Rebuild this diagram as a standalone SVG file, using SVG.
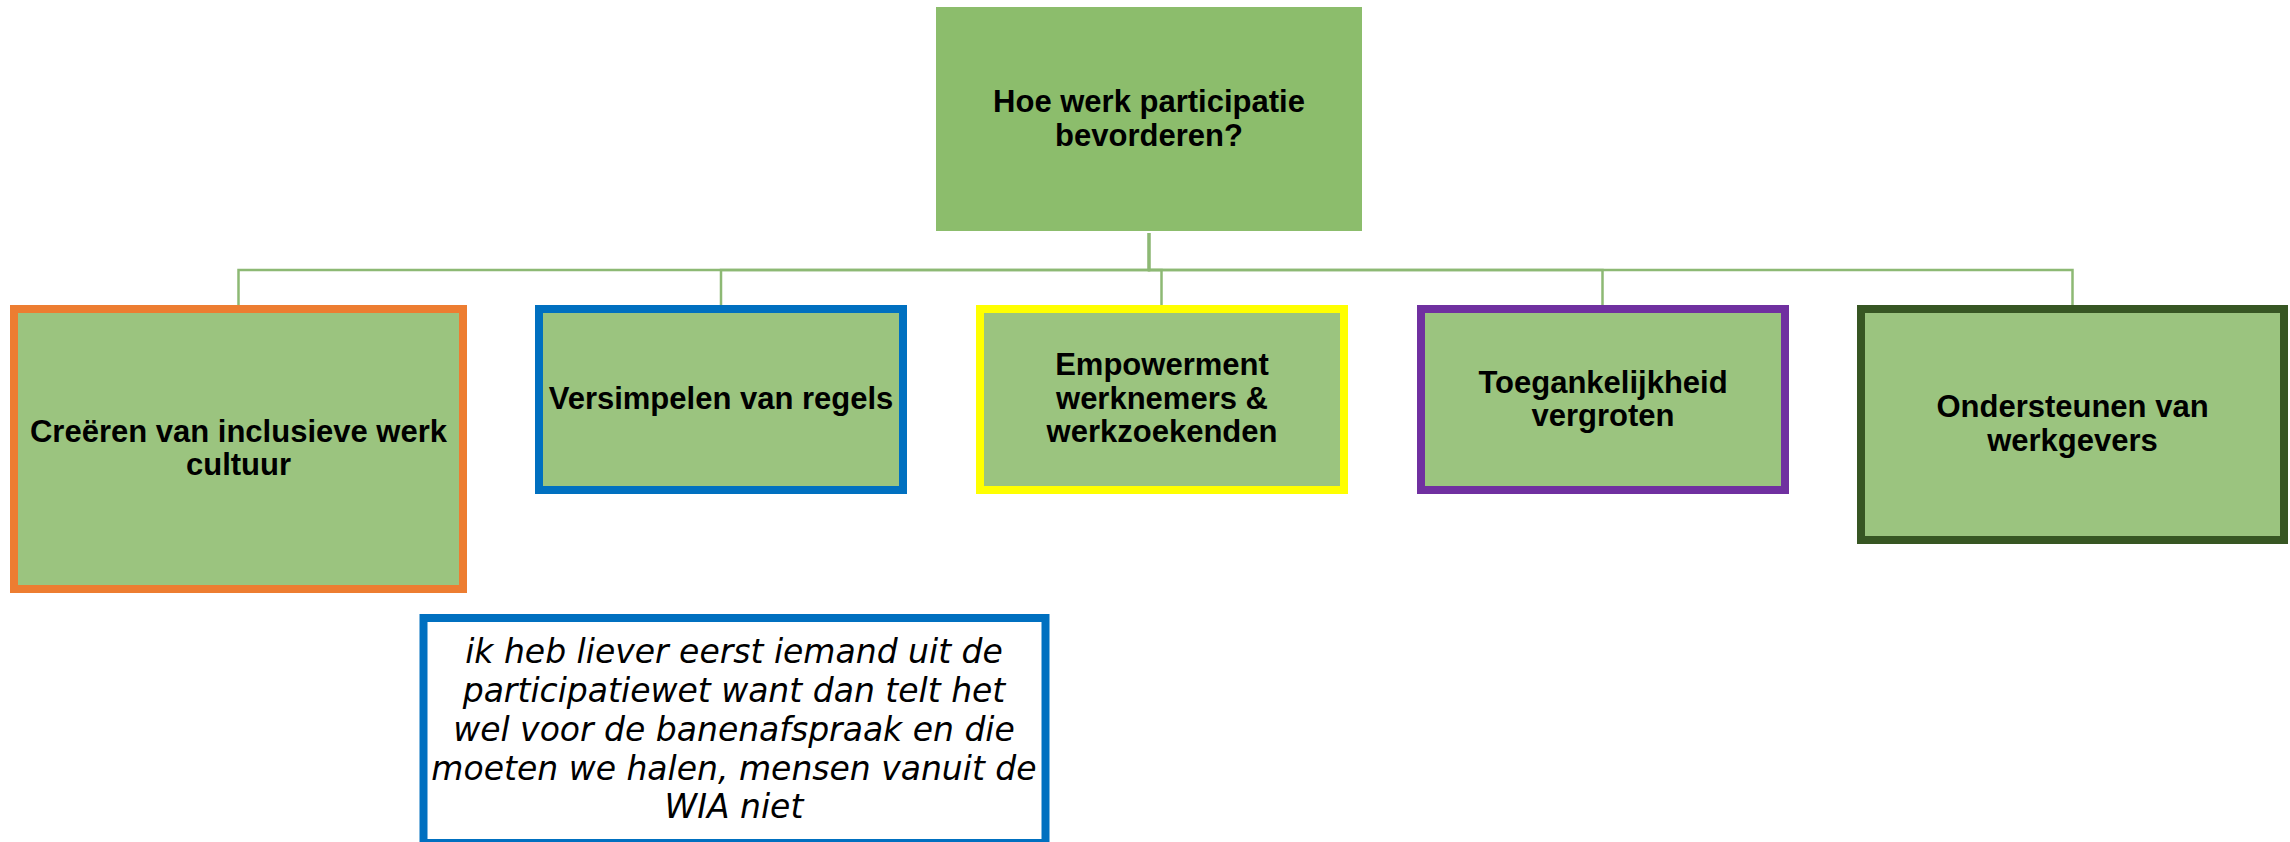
<svg xmlns="http://www.w3.org/2000/svg" width="2290" height="842" viewBox="0 0 2290 842">
<style>
.t{font-family:"Liberation Sans",Arial,sans-serif;font-weight:bold;font-size:31px;fill:#000;text-anchor:middle}
.q{font-family:"DejaVu Sans",Verdana,sans-serif;font-style:italic;font-size:33px;fill:#000;text-anchor:middle}
.box{fill:#9BC47F;stroke-width:8}
.conn{fill:none;stroke:#8DB974;stroke-width:2.5}
</style>
<rect width="2290" height="842" fill="#fff"/>
<g id="connectors">
<path class="conn" d="M1149,233 V270 H238.5 V305"/>
<path class="conn" d="M1149,233 V270 H721 V305"/>
<path class="conn" d="M1149,233 V270 H1161.5 V305"/>
<path class="conn" d="M1149,233 V270 H1602.5 V305"/>
<path class="conn" d="M1149,233 V270 H2072.5 V305"/>
</g>
<g id="root">
<rect x="936" y="7" width="426" height="224" fill="#8CBD6C"/>
<text class="t" x="1149" y="111.5">Hoe werk participatie</text>
<text class="t" x="1149" y="145.5">bevorderen?</text>
</g>
<g id="node-cultuur">
<rect class="box" x="14" y="309" width="449" height="280" stroke="#ED7D31"/>
<text class="t" x="238.5" y="441.5">Creëren van inclusieve werk</text>
<text class="t" x="238.5" y="475">cultuur</text>
</g>
<g id="node-regels">
<rect class="box" x="539" y="309" width="364" height="181" stroke="#0070C0"/>
<text class="t" x="721" y="408.5">Versimpelen van regels</text>
</g>
<g id="node-empowerment">
<rect class="box" x="980" y="309" width="364" height="181" stroke="#FFFF00"/>
<text class="t" x="1162" y="375">Empowerment</text>
<text class="t" x="1162" y="408.5">werknemers &amp;</text>
<text class="t" x="1162" y="442">werkzoekenden</text>
</g>
<g id="node-toegankelijkheid">
<rect class="box" x="1421" y="309" width="364" height="181" stroke="#7030A0"/>
<text class="t" x="1603" y="392.5">Toegankelijkheid</text>
<text class="t" x="1603" y="425.5">vergroten</text>
</g>
<g id="node-werkgevers">
<rect class="box" x="1861" y="309" width="423" height="231" stroke="#375623"/>
<text class="t" x="2072.5" y="416.5">Ondersteunen van</text>
<text class="t" x="2072.5" y="450.5">werkgevers</text>
</g>
<g id="quote">
<rect x="423.5" y="618" width="622" height="225" fill="#fff" stroke="#0070C0" stroke-width="8"/>
<text class="q" x="734" y="663">ik heb liever eerst iemand uit de</text>
<text class="q" x="734" y="702">participatiewet want dan telt het</text>
<text class="q" x="734" y="741">wel voor de banenafspraak en die</text>
<text class="q" x="734" y="780">moeten we halen, mensen vanuit de</text>
<text class="q" x="734" y="818">WIA niet</text>
</g>
</svg>
